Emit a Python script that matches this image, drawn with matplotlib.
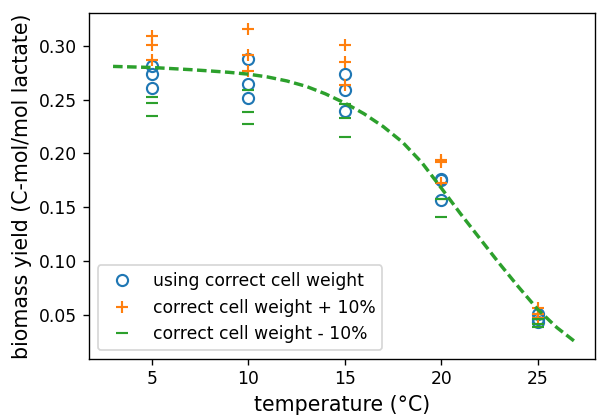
import matplotlib
matplotlib.use("Agg")
import matplotlib.pyplot as plt

# measured data (biomass yield, C-mol/mol lactate)
temps = [5, 5, 5, 10, 10, 10, 15, 15, 15, 20, 20, 20, 25, 25, 25]
yield_correct = [0.281, 0.274, 0.261,
                 0.288, 0.265, 0.252,
                 0.2735, 0.259, 0.2395,
                 0.176, 0.175, 0.157,
                 0.051, 0.046, 0.043]
yield_plus10 = [0.309, 0.301, 0.287,
                0.316, 0.2915, 0.277,
                0.301, 0.285, 0.2635,
                0.1935, 0.1925, 0.173,
                0.056, 0.051, 0.047]
yield_minus10 = [0.253, 0.247, 0.235,
                 0.259, 0.2385, 0.227,
                 0.246, 0.233, 0.2155,
                 0.158, 0.1575, 0.141,
                 0.046, 0.041, 0.039]

# fitted model curve
curve_t = [3, 4, 5, 6, 7, 8, 9, 10, 11, 12, 13, 14, 15, 16, 17, 18, 19,
           20, 21, 22, 23, 24, 25, 26, 27]
curve_y = [0.281, 0.2805, 0.280, 0.279, 0.278, 0.2768, 0.2755, 0.2738,
           0.2712, 0.2675, 0.2625, 0.2555, 0.247, 0.237, 0.225, 0.2105, 0.1915,
           0.168, 0.144, 0.121, 0.098, 0.076, 0.055, 0.038, 0.024]

dpi = 123
fig = plt.figure(figsize=(597 / dpi, 418 / dpi), dpi=dpi)
W, H = 597, 418
left, right, top, bottom = 89.3, 595, 13.3, 358.5
ax = fig.add_axes([left / W, (H - bottom) / H, (right - left) / W, (bottom - top) / H])

ax.plot(temps, yield_correct, 'o', color='tab:blue', mfc='none', ms=6.5, mew=1.25,
        label='using correct cell weight')
ax.plot(temps, yield_plus10, '+', color='tab:orange', ms=6.5, mew=1.25,
        label='correct cell weight + 10%')
ax.plot(temps, yield_minus10, '_', color='tab:green', ms=6.5, mew=1.25,
        label='correct cell weight - 10%')
ax.plot(curve_t, curve_y, color='tab:green', lw=2, ls=(0, (2.8, 1.3)))

ax.set_xlim(1.77, 27.97)
ax.set_ylim(0.0093, 0.3304)
ax.set_xticks([5, 10, 15, 20, 25])
ax.set_yticks([0.05, 0.10, 0.15, 0.20, 0.25, 0.30])
ax.set_yticklabels(['0.05', '0.10', '0.15', '0.20', '0.25', '0.30'])
ax.set_xlabel('temperature (°C)', fontsize=12)
ax.set_ylabel('biomass yield (C-mol/mol lactate)', fontsize=12)
ax.legend(loc='lower left', numpoints=1)

fig.savefig('out.png', dpi=dpi)
